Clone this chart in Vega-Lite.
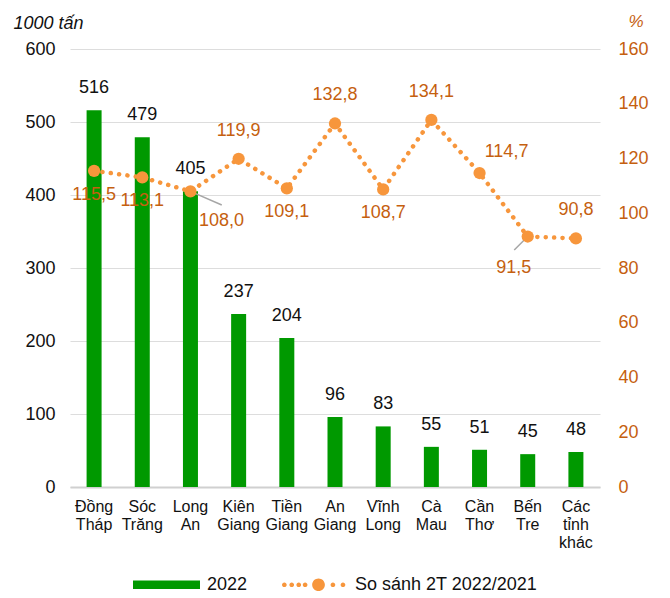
{
  "$schema": "https://vega.github.io/schema/vega-lite/v6.json",
  "width": 530,
  "height": 438,
  "autosize": {"type": "none"},
  "padding": {"left": 70, "top": 49, "right": 70, "bottom": 111},
  "background": "white",
  "config": {
    "view": {"stroke": null},
    "font": "Liberation Sans",
    "text": {"font": "Liberation Sans"}
  },
  "datasets": {
    "main": [
      {"prov": "Đồng Tháp", "val": 516, "pct": 115.5, "lab": "115,5"},
      {"prov": "Sóc Trăng", "val": 479, "pct": 113.1, "lab": "113,1"},
      {"prov": "Long An", "val": 405, "pct": 108.0, "lab": "108,0"},
      {"prov": "Kiên Giang", "val": 237, "pct": 119.9, "lab": "119,9"},
      {"prov": "Tiền Giang", "val": 204, "pct": 109.1, "lab": "109,1"},
      {"prov": "An Giang", "val": 96, "pct": 132.8, "lab": "132,8"},
      {"prov": "Vĩnh Long", "val": 83, "pct": 108.7, "lab": "108,7"},
      {"prov": "Cà Mau", "val": 55, "pct": 134.1, "lab": "134,1"},
      {"prov": "Cần Thơ", "val": 51, "pct": 114.7, "lab": "114,7"},
      {"prov": "Bến Tre", "val": 45, "pct": 91.5, "lab": "91,5"},
      {"prov": "Các tỉnh khác", "val": 48, "pct": 90.8, "lab": "90,8"}
    ],
    "legendItems": [
      {"series": "2022"},
      {"series": "So sánh 2T 2022/2021"}
    ]
  },
  "data": {"name": "main"},
  "encoding": {
    "x": {
      "field": "prov",
      "type": "nominal",
      "sort": null,
      "scale": {"domain": ["Đồng Tháp", "Sóc Trăng", "Long An", "Kiên Giang", "Tiền Giang", "An Giang", "Vĩnh Long", "Cà Mau", "Cần Thơ", "Bến Tre", "Các tỉnh khác"], "paddingInner": 0, "paddingOuter": 0},
      "axis": {
        "title": null,
        "labelAngle": 0,
        "labelExpr": "split(datum.label, ' ')",
        "labelFontSize": 16,
        "labelLineHeight": 18,
        "labelColor": "#111111",
        "labelPadding": 11,
        "labelBaseline": "top",
        "ticks": false,
        "domain": true,
        "domainColor": "#d0d0d0",
        "domainWidth": 2,
        "grid": false
      }
    }
  },
  "layer": [
    {
      "layer": [
        {
          "mark": {"type": "bar", "width": 15, "color": "#009900"},
          "encoding": {
            "y": {
              "field": "val",
              "type": "quantitative",
              "scale": {"domain": [0, 600], "nice": false},
              "axis": {
                "title": "1000 tấn",
                "titleAngle": 0,
                "titleAlign": "left",
                "titleBaseline": "alphabetic",
                "titleX": -57,
                "titleY": -21,
                "titleFontSize": 18,
                "titleFontStyle": "italic",
                "titleFontWeight": "normal",
                "titleColor": "#111111",
                "values": [0, 100, 200, 300, 400, 500, 600],
                "labelFontSize": 18,
                "labelColor": "#111111",
                "labelPadding": 15,
                "ticks": false,
                "domain": false,
                "grid": true,
                "gridColor": "#dddddd",
                "gridWidth": 1
              }
            }
          }
        },
        {
          "mark": {"type": "text", "fontSize": 18, "color": "#111111", "dy": -22, "baseline": "middle"},
          "encoding": {
            "y": {"field": "val", "type": "quantitative"},
            "text": {"field": "val", "type": "quantitative"}
          }
        }
      ]
    },
    {
      "layer": [
        {
          "mark": {"type": "line", "color": "#F7963C", "strokeWidth": 4.5, "strokeDash": [0.1, 8.3], "strokeCap": "round"},
          "encoding": {
            "y": {
              "field": "pct",
              "type": "quantitative",
              "scale": {"domain": [0, 160], "nice": false},
              "axis": {
                "orient": "right",
                "title": "%",
                "titleAngle": 0,
                "titleAlign": "left",
                "titleBaseline": "alphabetic",
                "titleX": 28,
                "titleY": -23,
                "titleFontSize": 17,
                "titleFontStyle": "italic",
                "titleFontWeight": "normal",
                "titleColor": "#C5600F",
                "values": [0, 20, 40, 60, 80, 100, 120, 140, 160],
                "labelFontSize": 18,
                "labelColor": "#C5600F",
                "labelPadding": 18,
                "ticks": false,
                "domain": false,
                "grid": false
              }
            }
          }
        },
        {
          "transform": [{"filter": {"field": "prov", "equal": "Long An"}}],
          "mark": {"type": "rule", "color": "#a6a6a6", "strokeWidth": 1.5},
          "encoding": {
            "x": {"field": "prov", "type": "nominal", "bandPosition": 0.5},
            "x2": {"datum": "Long An", "bandPosition": 1.15},
            "y": {"field": "pct", "type": "quantitative"},
            "y2": {"datum": 103.0}
          }
        },
        {
          "transform": [{"filter": {"field": "prov", "equal": "Bến Tre"}}],
          "mark": {"type": "rule", "color": "#a6a6a6", "strokeWidth": 1.5},
          "encoding": {
            "x": {"field": "prov", "type": "nominal", "bandPosition": 0.5},
            "x2": {"datum": "Bến Tre", "bandPosition": 0.22},
            "y": {"field": "pct", "type": "quantitative"},
            "y2": {"datum": 86.6}
          }
        },
        {
          "mark": {"type": "point", "shape": "circle", "filled": true, "size": 150, "color": "#F7963C", "opacity": 1},
          "encoding": {
            "y": {"field": "pct", "type": "quantitative"}
          }
        },
        {
          "transform": [{"filter": {"field": "prov", "oneOf": ["Kiên Giang", "An Giang", "Cà Mau", "Các tỉnh khác"]}}],
          "mark": {"type": "text", "fontSize": 18, "color": "#C5600F", "dy": -28, "baseline": "middle"},
          "encoding": {
            "y": {"field": "pct", "type": "quantitative"},
            "text": {"field": "lab"}
          }
        },
        {
          "transform": [{"filter": {"field": "prov", "oneOf": ["Đồng Tháp", "Sóc Trăng", "Tiền Giang", "Vĩnh Long"]}}],
          "mark": {"type": "text", "fontSize": 18, "color": "#C5600F", "dy": 24, "baseline": "middle"},
          "encoding": {
            "y": {"field": "pct", "type": "quantitative"},
            "text": {"field": "lab"}
          }
        },
        {
          "transform": [{"filter": {"field": "prov", "equal": "Long An"}}],
          "mark": {"type": "text", "fontSize": 18, "color": "#C5600F", "dx": 31, "dy": 30, "baseline": "middle"},
          "encoding": {
            "y": {"field": "pct", "type": "quantitative"},
            "text": {"field": "lab"}
          }
        },
        {
          "transform": [{"filter": {"field": "prov", "equal": "Cần Thơ"}}],
          "mark": {"type": "text", "fontSize": 18, "color": "#C5600F", "dx": 27, "dy": -21, "baseline": "middle"},
          "encoding": {
            "y": {"field": "pct", "type": "quantitative"},
            "text": {"field": "lab"}
          }
        },
        {
          "transform": [{"filter": {"field": "prov", "equal": "Bến Tre"}}],
          "mark": {"type": "text", "fontSize": 18, "color": "#C5600F", "dx": -14, "dy": 31, "baseline": "middle"},
          "encoding": {
            "y": {"field": "pct", "type": "quantitative"},
            "text": {"field": "lab"}
          }
        }
      ]
    },
    {
      "data": {"name": "legendItems"},
      "mark": {"type": "point", "filled": true, "opacity": 0},
      "encoding": {
        "x": {"value": 0},
        "y": {"value": 0},
        "color": {
          "field": "series",
          "type": "nominal",
          "sort": null,
          "scale": {"domain": ["2022", "So sánh 2T 2022/2021"], "range": ["#009900", "#F7963C"]},
          "legend": {
            "title": null,
            "orient": "none",
            "legendX": 63,
            "legendY": 502,
            "direction": "horizontal",
            "columns": 2,
            "columnPadding": 33,
            "labelOffset": 7,
            "labelFontSize": 18,
            "labelColor": "#111111",
            "labelFont": "Liberation Sans",
            "symbolSize": 4489,
            "symbolStrokeWidth": 0,
            "symbolOpacity": 1,
            "labelLimit": 400
          }
        },
        "shape": {
          "field": "series",
          "type": "nominal",
          "sort": null,
          "scale": {
            "domain": ["2022", "So sánh 2T 2022/2021"],
            "range": [
              "M-1,-0.13H1V0.13H-1Z",
              "M-0.97,0A0.07,0.07,0,1,1,-0.83,0A0.07,0.07,0,1,1,-0.97,0ZM-0.75,0A0.07,0.07,0,1,1,-0.61,0A0.07,0.07,0,1,1,-0.75,0ZM-0.54,0A0.07,0.07,0,1,1,-0.40,0A0.07,0.07,0,1,1,-0.54,0ZM-0.35,0A0.07,0.07,0,1,1,-0.21,0A0.07,0.07,0,1,1,-0.35,0ZM-0.07,0A0.19,0.19,0,1,1,0.31,0A0.19,0.19,0,1,1,-0.07,0ZM0.48,0A0.07,0.07,0,1,1,0.62,0A0.07,0.07,0,1,1,0.48,0ZM0.78,0A0.07,0.07,0,1,1,0.92,0A0.07,0.07,0,1,1,0.78,0Z"
            ]
          },
          "legend": {
            "title": null,
            "orient": "none",
            "legendX": 63,
            "legendY": 502,
            "direction": "horizontal",
            "columns": 2,
            "columnPadding": 33,
            "labelOffset": 7,
            "labelFontSize": 18,
            "labelColor": "#111111",
            "symbolSize": 4489,
            "symbolStrokeWidth": 0,
            "symbolOpacity": 1,
            "labelLimit": 400
          }
        }
      }
    }
  ],
  "resolve": {"scale": {"y": "independent"}, "axis": {"y": "independent"}}
}
